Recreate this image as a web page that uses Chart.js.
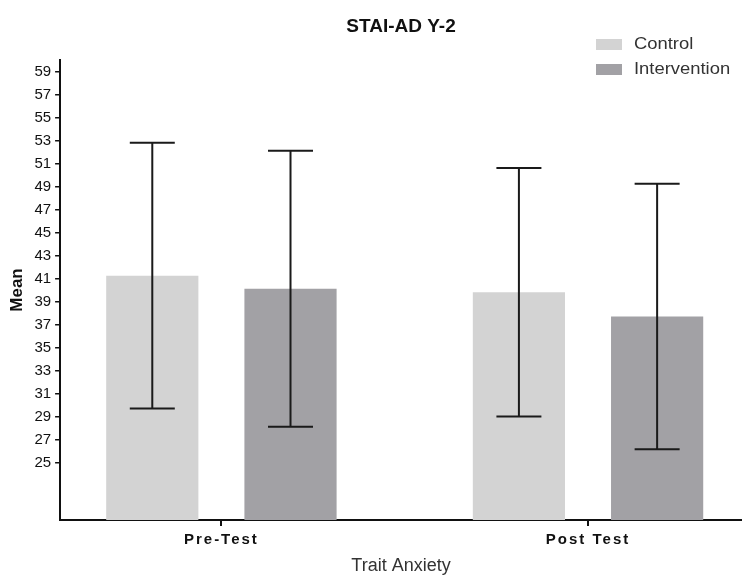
<!DOCTYPE html>
<html>
<head>
<meta charset="utf-8">
<script src="https://cdn.jsdelivr.net/npm/chart.js@4.4.0/dist/chart.umd.min.js"></script>
<style>
  html, body { margin: 0; padding: 0; background: #fff; }
  #wrap { width: 742px; height: 577px; position: relative; }
</style>
</head>
<body>
<div id="wrap"><canvas id="staiChart"></canvas></div>
<script>
const categories = ['Pre-Test', 'Post Test'];
const seriesNames = ['Control', 'Intervention'];
const controlMean = [41.25, 39.8];
const controlSD = [11.55, 10.8];
const interventionMean = [40.1, 37.7];
const interventionSD = [12.0, 11.55];
const yTicks = [25, 27, 29, 31, 33, 35, 37, 39, 41, 43, 45, 47, 49, 51, 53, 55, 57, 59];
const barColors = ['#d3d3d3', '#a2a1a5'];

const font = "'Liberation Sans', Arial, sans-serif";

// error bars (mean +/- SD) drawn on top of each bar
const errorBars = {
    id: 'errorBars',
    afterDatasetsDraw(chart) {
        const ctx = chart.ctx;
        const y = chart.scales.y;
        ctx.save();
        ctx.strokeStyle = '#1a1a1a';
        ctx.lineWidth = 2;
        chart.data.datasets.forEach((ds, di) => {
            chart.getDatasetMeta(di).data.forEach((bar, i) => {
                const m = ds.data[i].y, sd = ds.sd[i];
                const top = y.getPixelForValue(m + sd);
                const bot = y.getPixelForValue(m - sd);
                ctx.beginPath();
                ctx.moveTo(bar.x, top); ctx.lineTo(bar.x, bot);
                ctx.moveTo(bar.x - 22.5, top); ctx.lineTo(bar.x + 22.5, top);
                ctx.moveTo(bar.x - 22.5, bot); ctx.lineTo(bar.x + 22.5, bot);
                ctx.stroke();
            });
        });
        ctx.restore();
    }
};

// legend stacked in the top right corner (text a bit wider, like the source)
const cornerLegend = {
    id: 'cornerLegend',
    afterDraw(chart) {
        const ctx = chart.ctx;
        ctx.save();
        ctx.font = '16px ' + font;
        ctx.textBaseline = 'middle';
        chart.data.datasets.forEach((ds, i) => {
            const cy = 44.5 + i * 25;
            ctx.fillStyle = ds.backgroundColor;
            ctx.fillRect(596, cy - 5.5, 26, 11);
            ctx.save();
            ctx.translate(634, cy);
            ctx.scale(1.15, 1);
            ctx.fillStyle = '#333';
            ctx.fillText(ds.label, 0, 0);
            ctx.restore();
        });
        ctx.restore();
    }
};

// spaced-out category labels
function spaceLabels(scale) {
    const orig = scale.drawLabels;
    scale.drawLabels = function (area) {
        this.ctx.save();
        this.ctx.letterSpacing = '2px';
        orig.call(this, area);
        this.ctx.restore();
    };
}

const toPoints = arr => arr.map((v, i) => ({ x: i + 1, y: v }));

new Chart(document.getElementById('staiChart'), {
    type: 'bar',
    data: {
        datasets: [
            { label: seriesNames[0], data: toPoints(controlMean), sd: controlSD, backgroundColor: barColors[0] },
            { label: seriesNames[1], data: toPoints(interventionMean), sd: interventionSD, backgroundColor: barColors[1] }
        ]
    },
    options: {
        responsive: true,
        maintainAspectRatio: false,
        animation: false,
        categoryPercentage: 0.754,
        barPercentage: 0.667,
        layout: { padding: { left: 7, right: 0, bottom: 0 } },
        plugins: {
            legend: { display: false },
            tooltip: { enabled: false },
            title: {
                display: true,
                text: 'STAI-AD Y-2',
                fullSize: false,
                color: '#111',
                font: { family: font, size: 19, weight: 'bold' },
                padding: { top: 15, bottom: 22.2 }
            }
        },
        scales: {
            x: {
                type: 'linear',
                min: 0.56,
                max: 2.42,
                offset: false,
                afterBuildTicks: s => { s.ticks = categories.map((c, i) => ({ value: i + 1 })); },
                afterFit: spaceLabels,
                ticks: {
                    callback: v => categories[v - 1],
                    color: '#111',
                    font: { family: font, size: 15, weight: 'bold' },
                    padding: 5
                },
                grid: { offset: false, drawOnChartArea: false, tickLength: 6, tickColor: '#111', lineWidth: 2 },
                border: { color: '#111', width: 2 },
                title: {
                    display: true,
                    text: 'Trait Anxiety',
                    color: '#333',
                    font: { family: font, size: 18 },
                    padding: { top: 1.4, bottom: 0 }
                }
            },
            y: {
                min: 20,
                max: 60,
                afterBuildTicks: s => { s.ticks = yTicks.map(v => ({ value: v })); },
                ticks: {
                    color: '#111',
                    font: { family: font, size: 15 },
                    padding: 4
                },
                grid: { drawOnChartArea: false, tickLength: 5, tickColor: '#111', lineWidth: 1.5 },
                border: { color: '#111', width: 2 },
                title: {
                    display: true,
                    text: 'Mean',
                    color: '#111',
                    font: { family: font, size: 17, weight: 'bold' },
                    padding: { top: 0, bottom: 3 }
                }
            }
        }
    },
    plugins: [errorBars, cornerLegend]
});
</script>
</body>
</html>
